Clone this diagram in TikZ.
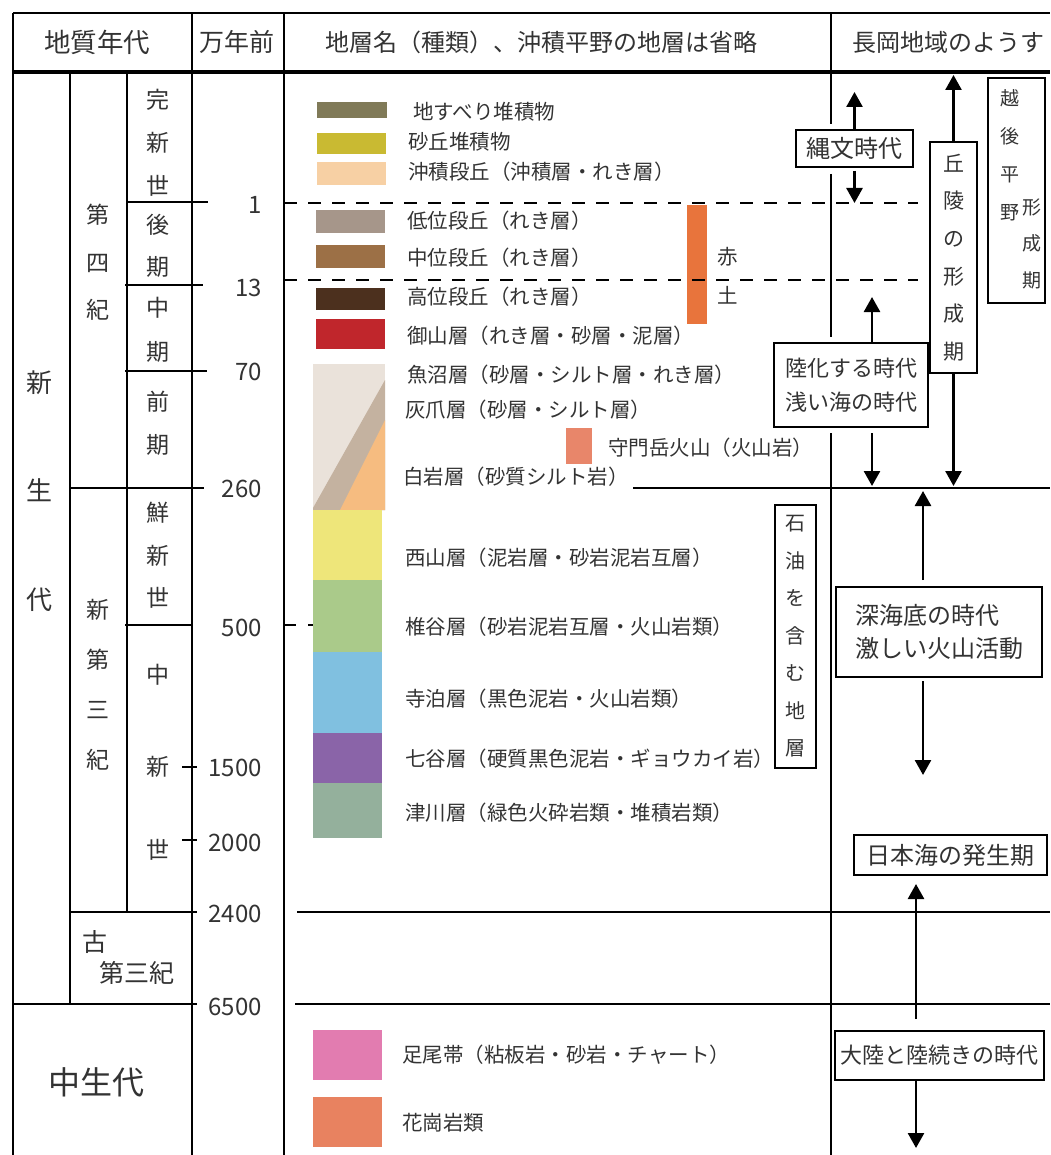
\documentclass[tikz,border=0pt]{standalone}
\usepackage{fontspec}
\setmainfont{Noto Sans CJK JP}
\usetikzlibrary{arrows.meta}
\definecolor{txt}{HTML}{333333}
\definecolor{cLand}{HTML}{807A58}
\definecolor{cDune}{HTML}{C9BA32}
\definecolor{cAllu}{HTML}{F7D0A4}
\definecolor{cLow}{HTML}{A6968A}
\definecolor{cMid}{HTML}{9C7046}
\definecolor{cHigh}{HTML}{4C301E}
\definecolor{cMiyama}{HTML}{C0262C}
\definecolor{cBeige}{HTML}{EAE2DA}
\definecolor{cBand}{HTML}{C4B2A0}
\definecolor{cPeach}{HTML}{F6BC80}
\definecolor{cSumon}{HTML}{E8866A}
\definecolor{cAka}{HTML}{E8743C}
\definecolor{cNishi}{HTML}{EEE67A}
\definecolor{cShii}{HTML}{AACA8A}
\definecolor{cTera}{HTML}{80C0E0}
\definecolor{cNana}{HTML}{8A64A8}
\definecolor{cTsu}{HTML}{94B09C}
\definecolor{cAshio}{HTML}{E27CB0}
\definecolor{cKako}{HTML}{E88260}
\newcommand\myfs[2]{\fontsize{#1}{#2}\selectfont}
\begin{document}
\begin{tikzpicture}[x=1pt,y=-1pt,
  tline/.style={line width=2.6pt, black},
  dline/.style={line width=2pt, black, dash pattern=on 13pt off 11pt},
  lbl/.style={anchor=west, inner sep=0pt, text=txt, font=\myfs{20.5}{24}},
  era/.style={align=center, inner sep=0pt, text=txt},
  numtxt/.style={anchor=east, inner sep=0pt, text=txt, font=\myfs{24}{28}},
  head/.style={inner sep=0pt, text=txt, font=\myfs{25}{30}},
  tbox/.style={draw, line width=2pt, fill=white, inner sep=0pt, text=txt, align=center},
  arr/.style={line width=2.6pt, -{Triangle[length=15pt,width=16pt]}}
]
\useasboundingbox (0,0) rectangle (1050,1155);
\clip (0,0) rectangle (1050,1155);
\fill[white] (0,0) rectangle (1050,1155);

% ---------- colour swatches ----------
\fill[cLand]   (317,102) rectangle (387,118);
\fill[cDune]   (317,133) rectangle (386,154);
\fill[cAllu]   (317,162) rectangle (386,185);
\fill[cLow]    (316,210) rectangle (385,233);
\fill[cMid]    (316,245) rectangle (385,268);
\fill[cHigh]   (316,288) rectangle (385,310);
\fill[cMiyama] (316,319) rectangle (385,349);
\fill[cBeige]  (313,364) rectangle (385,510);
\fill[cBand]   (385,380) -- (313,508) -- (313,510) -- (385,510) -- cycle;
\fill[cPeach]  (385,420) -- (340,510) -- (385,510) -- cycle;
\fill[cSumon]  (566,428) rectangle (592,464);
\fill[cAka]    (687,205) rectangle (707,324);
\fill[cNishi]  (313,510) rectangle (382,580);
\fill[cShii]   (313,580) rectangle (382,652);
\fill[cTera]   (313,652) rectangle (382,733);
\fill[cNana]   (313,733) rectangle (382,783);
\fill[cTsu]    (313,783) rectangle (382,838);
\fill[cAshio]  (313,1030) rectangle (382,1080);
\fill[cKako]   (313,1097) rectangle (382,1147);

% ---------- table frame ----------
\draw[tline] (13,13) -- (1050,13);
\draw[line width=3.6pt] (13,72) -- (1050,72);
\draw[tline] (13,13) -- (13,1155);
\draw[tline] (192,13) -- (192,1155);
\draw[tline] (284,13) -- (284,1155);
\draw[tline] (831,13) -- (831,124);
\draw[tline] (831,174) -- (831,337);
\draw[tline] (831,433) -- (831,1155);
\draw[tline] (70,72) -- (70,1004);
\draw[tline] (127,72) -- (127,912);
% era boundaries
\draw[tline] (127,202) -- (208,202);
\draw[tline] (125,285) -- (203,285);
\draw[tline] (125,371) -- (207,371);
\draw[tline] (70,488) -- (204,488);
\draw[tline] (125,625) -- (192,625);
\draw[tline] (182,767) -- (197,767);
\draw[tline] (182,840) -- (197,840);
\draw[tline] (70,912) -- (197,912);
\draw[tline] (13,1004) -- (197,1004);
% right part boundaries
\draw[tline] (633,488) -- (1050,488);
\draw[tline] (297,912) -- (1050,912);
\draw[tline] (295,1004) -- (1050,1004);
\draw[dline] (284,203) -- (918,203);
\draw[dline] (284,280) -- (918,280);
\draw[line width=2pt, dash pattern=on 12pt off 12pt] (284,625) -- (313,625);

% ---------- headers ----------
\node[head, font=\myfs{26.5}{30}] (h1) at (97,42) {地質年代};
\node[head] (h2) at (237,42) {万年前};
\node[head, font=\myfs{24}{28}] (h3) at (541,42) {地層名（種類）、沖積平野の地層は省略};
\node[head, anchor=west, font=\myfs{24}{28}] (h4) at (852,42) {長岡地域のようす};

% ---------- era column ----------
\node[era, font=\myfs{23}{43}] (e1) at (158,142.5) {完\\新\\世};
\node[era, font=\myfs{23}{42}] (e2) at (158,246) {後\\期};
\node[era, font=\myfs{23}{44}] (e3) at (158,330) {中\\期};
\node[era, font=\myfs{23}{43}] (e4) at (158,423.5) {前\\期};
\node[era, font=\myfs{23}{42.5}] (e5) at (158,555.5) {鮮\\新\\世};
\node[era, font=\myfs{23}{28}] (e6a) at (158,675) {中};
\node[era, font=\myfs{23}{28}] (e6b) at (158,767) {新};
\node[era, font=\myfs{23}{28}] (e6c) at (158,850) {世};
\node[era, font=\myfs{23}{47.5}] (p1) at (98,262.5) {第\\四\\紀};
\node[era, font=\myfs{23}{50}] (p2) at (98,685) {新\\第\\三\\紀};
\node[era, font=\myfs{25}{28}] (p3a) at (95,942) {古};
\node[era, font=\myfs{25}{28}] (p3b) at (137,973) {第三紀};
\node[era, font=\myfs{26}{108.5}] (g1) at (40,491) {新\\生\\代};
\node[era, font=\myfs{32}{36}] (g2) at (96,1082) {中生代};

% ---------- ages ----------
\node[numtxt] (n1) at (262,205) {1};
\node[numtxt] (n2) at (262,288) {13};
\node[numtxt] (n3) at (262,372) {70};
\node[numtxt] (n4) at (262,489) {260};
\node[numtxt] (n5) at (262,628) {500};
\node[numtxt] (n6) at (262,768) {1500};
\node[numtxt] (n7) at (262,843) {2000};
\node[numtxt] (n8) at (262,914) {2400};
\node[numtxt] (n9) at (262,1007) {6500};

% ---------- layer labels ----------
\node[lbl] (l1) at (413,112) {地すべり堆積物};
\node[lbl] (l2) at (408,142) {砂丘堆積物};
\node[lbl] (l3) at (408,172) {沖積段丘（沖積層・れき層）};
\node[lbl] (l4) at (407,221) {低位段丘（れき層）};
\node[lbl] (l5) at (407,258) {中位段丘（れき層）};
\node[lbl] (l6) at (407,297) {高位段丘（れき層）};
\node[lbl] (l7) at (407,336) {御山層（れき層・砂層・泥層）};
\node[lbl] (l8) at (407,375) {魚沼層（砂層・シルト層・れき層）};
\node[lbl] (l9) at (405,410) {灰爪層（砂層・シルト層）};
\node[lbl] (l10) at (608,448) {守門岳火山（火山岩）};
\node[lbl] (l11) at (403,477) {白岩層（砂質シルト岩）};
\node[lbl] (l12) at (405,558) {西山層（泥岩層・砂岩泥岩互層）};
\node[lbl] (l13) at (405,627) {椎谷層（砂岩泥岩互層・火山岩類）};
\node[lbl] (l14) at (405,699) {寺泊層（黒色泥岩・火山岩類）};
\node[lbl] (l15) at (405,759) {七谷層（硬質黒色泥岩・ギョウカイ岩）};
\node[lbl] (l16) at (405,813) {津川層（緑色火砕岩類・堆積岩類）};
\node[lbl] (l17) at (402,1055) {足尾帯（粘板岩・砂岩・チャート）};
\node[lbl] (l18) at (402,1123) {花崗岩類};
\node[lbl] (aka1) at (717,257) {赤};
\node[lbl] (aka2) at (717,295) {土};

% ---------- boxes ----------
\node[tbox, minimum width=41, minimum height=263, font=\myfs{20}{37.5}] (sekiyu) at (795.5,636.5) {石\\油\\を\\含\\む\\地\\層};
\node[tbox, minimum width=117, minimum height=37, font=\myfs{24}{28}] (jomon) at (854.5,148.5) {縄文時代};
\node[tbox, minimum width=154, minimum height=84, font=\myfs{22}{34}] (rika) at (851,385) {陸化する時代\\浅い海の時代};
\node[tbox, minimum width=47, minimum height=231, font=\myfs{21}{37.6}] (kyuryo) at (953.5,257.5) {丘\\陵\\の\\形\\成\\期};
\node[tbox, minimum width=57, minimum height=225] (echigo) at (1016.5,190.5) {};
\node[era, font=\myfs{19}{38}] (echigoA) at (1010,155) {越\\後\\平\\野};
\node[era, font=\myfs{19}{36.5}] (echigoB) at (1032,243.5) {形\\成\\期};
\node[tbox, minimum width=206, minimum height=90, font=\myfs{24}{33}, align=left] (shinkai) at (939,632) {深海底の時代\\激しい火山活動};
\node[tbox, minimum width=193, minimum height=40, font=\myfs{24}{28}] (nihonkai) at (950,855) {日本海の発生期};
\node[tbox, minimum width=209, minimum height=49, font=\myfs{22}{26}] (tairiku) at (939.5,1055.5) {大陸と陸続きの時代};

% ---------- arrows ----------
\coordinate (jUp) at (854.5,92);
\coordinate (jDn) at (854.5,203);
\coordinate (kUp) at (953.5,75);
\coordinate (kDn) at (953.5,486);
\coordinate (rUp) at (872,297);
\coordinate (rDn) at (872,486);
\coordinate (sUp) at (923,491);
\coordinate (sDn) at (923,775);
\coordinate (tDn) at (916,1148);
\draw[arr] (jomon.north) -- (jUp);
\draw[arr, shorten <=3pt] (jomon.south) -- (jDn);
\draw[arr] (kyuryo.north) -- (kUp);
\draw[arr] (kyuryo.south) -- (kDn);
\draw[arr] (rika.north -| rUp) -- (rUp);
\draw[arr, shorten <=5pt] (rika.south -| rDn) -- (rDn);
\draw[arr, shorten <=6pt] (shinkai.north -| sUp) -- (sUp);
\draw[arr, shorten <=3pt] (shinkai.south -| sDn) -- (sDn);
\draw[arr, shorten <=11pt, shorten >=8pt] (tairiku.north -| tDn) -- (nihonkai.south -| tDn);
\draw[arr] (tairiku.south -| tDn) -- (tDn);
\end{tikzpicture}
\end{document}
